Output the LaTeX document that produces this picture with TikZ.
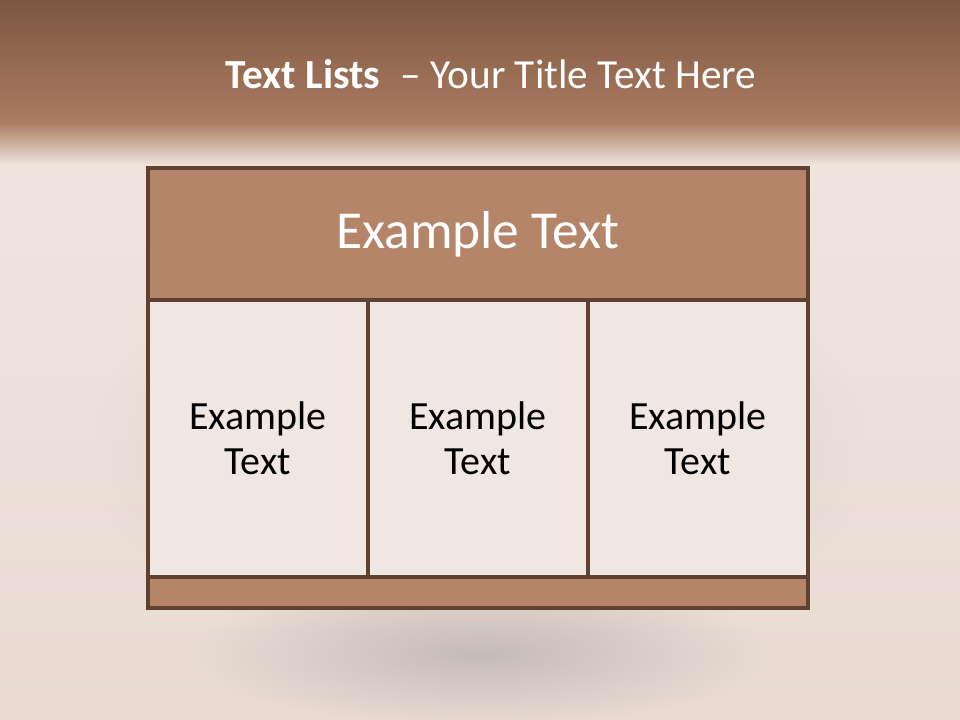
\documentclass[tikz,border=0pt]{standalone}
\usepackage{fontspec}
\setmainfont{Carlito}
\usepackage{xcolor}
\usetikzlibrary{fadings}
\definecolor{bandtop}{RGB}{125,87,65}
\definecolor{bandlow}{RGB}{170,124,97}
\definecolor{slidebg}{RGB}{240,228,221}
\definecolor{slidelow}{RGB}{233,219,210}
\definecolor{boxline}{RGB}{96,64,46}
\definecolor{boxhead}{RGB}{181,133,106}
\definecolor{boxcell}{RGB}{240,231,226}
\definecolor{boxshadow}{RGB}{170,160,158}
\tikzfading[name=blurout,inner color=transparent!0,outer color=transparent!100]
\tikzset{
  frame/.style={draw=boxline,line width=2.3pt},
  headtext/.style={font=\fontsize{40}{46}\selectfont,text=white},
  celltext/.style={font=\fontsize{30}{34}\selectfont,align=center,text=black},
}

\begin{document}
\begin{tikzpicture}[x=0.75pt,y=-0.75pt]
\useasboundingbox (0,0) rectangle (960,720);
% background
\shade[top color=slidebg,bottom color=slidelow] (0,160) rectangle (960,720);
\fill[boxshadow,path fading=blurout,opacity=0.3] (480,450) ellipse (390 and 210);
\fill[boxshadow,path fading=blurout,opacity=0.55] (480,655) ellipse (290 and 70);
\shade[top color=bandtop,bottom color=bandlow] (0,0) rectangle (960,122);
\shade[top color=bandlow,bottom color=slidebg] (0,122) rectangle (960,165);
% title
\node[font=\fontsize{31}{36}\selectfont,text=white] (title) at (491,74)
  {\textbf{Text Lists}\enspace– Your Title Text Here};
% header
\fill[boxhead] (148,168) rectangle (808,300);
\node[headtext] (head) at (478,234) {Example Text};
% cells
\foreach \i/\x in {1/148,2/368,3/588} {
  \fill[boxcell] (\x,300) rectangle (\x+220,577);
  \node[celltext] (cell\i) at (\x+110,438) {Example\\Text};
}
% bottom strip
\fill[boxhead] (148,577) rectangle (808,608);
% lines
\draw[frame] (148,168) rectangle (808,608);
\draw[frame] (148,300) -- (808,300);
\draw[frame] (148,577) -- (808,577);
\draw[frame] (368,300) -- (368,577);
\draw[frame] (588,300) -- (588,577);
\end{tikzpicture}
\end{document}
